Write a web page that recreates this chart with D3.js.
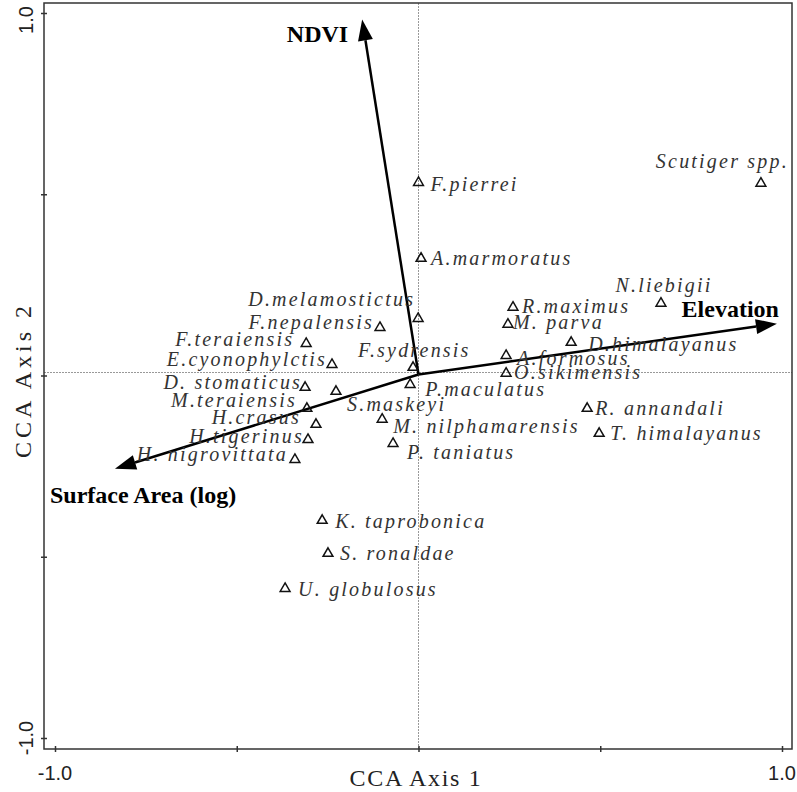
<!DOCTYPE html>
<html>
<head>
<meta charset="utf-8">
<script src="https://cdn.jsdelivr.net/npm/d3@7"></script>
<style>
	body { margin: 0; background: #fff; }
	svg { display: block; }
</style>
</head>
<body>
<div id="chart"></div>
<script>
	// species scores on the first two CCA axes
	var species = ["F.pierrei", "Scutiger spp.", "A.marmoratus", "N.liebigii", "R.maximus", "M. parva",
		"D.himalayanus", "A.formosus", "O.sikimensis", "P.maculatus", "F.sydrensis", "D.melamostictus",
		"F.nepalensis", "F.teraiensis", "E.cyonophylctis", "D. stomaticus", "S.maskeyi", "M.teraiensis",
		"H.crasus", "H.tigerinus", "H. nigrovittata", "M. nilphamarensis", "P. taniatus", "R. annandali",
		"T. himalayanus", "K. taprobonica", "S. ronaldae", "U. globulosus"];
	var axis1 = [0.00, 0.942, 0.007, 0.667, 0.260, 0.246,
		0.420, 0.241, 0.241, -0.023, -0.015, -0.001,
		-0.106, -0.309, -0.238, -0.312, -0.227, -0.307,
		-0.282, -0.304, -0.340, -0.100, -0.070, 0.464,
		0.497, -0.265, -0.249, -0.367];
	var axis2 = [0.532, 0.530, 0.323, 0.199, 0.188, 0.141,
		0.091, 0.055, 0.006, -0.025, 0.022, 0.157,
		0.132, 0.088, 0.030, -0.033, -0.044, -0.091,
		-0.135, -0.177, -0.232, -0.121, -0.188, -0.091,
		-0.160, -0.400, -0.491, -0.588];

	// environmental variable biplot arrows
	var envVars = ["NDVI", "Elevation", "Surface Area (log)"];
	var envAxis1 = [-0.155, 0.986, -0.835];
	var envAxis2 = [0.982, 0.143, -0.257];

	var tickValues = [-1, -0.5, 0, 0.5, 1];
	var tickLabels = ["-1.0", "", "", "", "1.0"];

	// label placement (anchor, dx, dy from the symbol)
	var labelPlace = {
		"F.pierrei": ["start", 12, 8], "Scutiger spp.": ["end", 28, -15], "A.marmoratus": ["start", 10, 7],
		"N.liebigii": ["middle", 3, -11], "R.maximus": ["start", 9, 6], "M. parva": ["start", 5, 5],
		"D.himalayanus": ["start", 17, 8], "A.formosus": ["start", 11, 9], "O.sikimensis": ["start", 8, 6],
		"P.maculatus": ["start", 15, 11], "F.sydrensis": ["start", -55, -11], "D.melamostictus": ["end", -3, -13],
		"F.nepalensis": ["end", -6, 1], "F.teraiensis": ["end", -12, 2], "E.cyonophylctis": ["end", -5, 1],
		"D. stomaticus": ["end", -3, 2], "S.maskeyi": ["start", 11, 20], "M.teraiensis": ["end", -10, -1],
		"H.crasus": ["end", -15, 0], "H.tigerinus": ["end", -4, 3], "H. nigrovittata": ["end", -7, 1],
		"M. nilphamarensis": ["start", 11, 14], "P. taniatus": ["start", 14, 15], "R. annandali": ["start", 8, 7],
		"T. himalayanus": ["start", 11, 6], "K. taprobonica": ["start", 13, 7], "S. ronaldae": ["start", 12, 7],
		"U. globulosus": ["start", 13, 7]
	};
	var envLabelPlace = {
		"NDVI": ["end", -14, 22], "Elevation": ["end", 2, -7], "Surface Area (log)": ["start", -65, 34]
	};

	var svgwidth = 797;
	var svgheight = 792;

	var svg = d3.select("#chart")
		.append("svg")
		.attr("width", svgwidth)
		.attr("height", svgheight);

	var frame = { left: 44, right: 792, top: 3, bottom: 749 };

	var xScale = d3.scaleLinear().domain([-1, 1]).range([55, 782]);
	var yScale = d3.scaleLinear().domain([-1, 1]).range([738, 13]);

	// zero lines
	svg.append("line")
		.attr("x1", xScale(0)).attr("x2", xScale(0))
		.attr("y1", frame.top).attr("y2", frame.bottom)
		.attr("stroke", "#999").attr("stroke-width", 1).attr("stroke-dasharray", "2,1");
	svg.append("line")
		.attr("x1", frame.left).attr("x2", frame.right)
		.attr("y1", yScale(0) - 3).attr("y2", yScale(0) - 3)
		.attr("stroke", "#999").attr("stroke-width", 1).attr("stroke-dasharray", "2,1");

	// frame
	svg.append("rect")
		.attr("x", frame.left).attr("y", frame.top)
		.attr("width", frame.right - frame.left)
		.attr("height", frame.bottom - frame.top)
		.attr("fill", "none")
		.attr("stroke", "#333")
		.attr("stroke-width", 1.5);

	// ticks crossing the frame
	var xAxis = svg.append("g")
		.attr("transform", "translate(0," + (frame.bottom - 3) + ")")
		.call(d3.axisBottom(xScale).tickValues(tickValues).tickSize(6).tickFormat(""));
	var yAxis = svg.append("g")
		.attr("transform", "translate(" + (frame.left + 3) + ",0)")
		.call(d3.axisLeft(yScale).tickValues(tickValues).tickSize(6).tickFormat(""));
	svg.selectAll(".domain").remove();
	svg.selectAll(".tick line").attr("stroke", "#333").attr("stroke-width", 1.5);

	// tick labels
	svg.selectAll(".xlab")
		.data(tickValues.filter(function (d, i) { return tickLabels[i]; }))
		.enter()
		.append("text")
		.attr("x", function (d) { return xScale(d); })
		.attr("y", 780)
		.attr("text-anchor", "middle")
		.style("font-family", "'Liberation Sans', Arial, sans-serif")
		.style("font-size", "20px")
		.attr("fill", "#222")
		.text(function (d) { return tickLabels[tickValues.indexOf(d)]; });

	svg.selectAll(".ylab")
		.data(tickValues.filter(function (d, i) { return tickLabels[i]; }))
		.enter()
		.append("text")
		.attr("transform", function (d) {
			return "translate(33," + Math.max(yScale(d), 20) + ") rotate(-90)";
		})
		.attr("text-anchor", "middle")
		.style("font-family", "'Liberation Sans', Arial, sans-serif")
		.style("font-size", "20px")
		.attr("fill", "#222")
		.text(function (d) { return tickLabels[tickValues.indexOf(d)]; });

	// axis titles
	svg.append("text")
		.attr("x", 416)
		.attr("y", 786)
		.attr("text-anchor", "middle")
		.style("font-family", "'Liberation Serif', 'Times New Roman', serif")
		.style("font-size", "24px")
		.style("letter-spacing", "1.7px")
		.attr("fill", "#222")
		.text("CCA Axis 1");

	svg.append("text")
		.attr("transform", "translate(31,380) rotate(-90)")
		.attr("text-anchor", "middle")
		.style("font-family", "'Liberation Serif', 'Times New Roman', serif")
		.style("font-size", "24px")
		.style("letter-spacing", "4px")
		.attr("fill", "#222")
		.text("CCA Axis 2");

	// environmental arrows
	var ox = xScale(0), oy = yScale(0) - 1;
	var headLen = 21, headHalf = 7.5;
	var arrows = svg.append("g");
	envVars.forEach(function (name, i) {
		var tx = xScale(envAxis1[i]);
		var ty = yScale(envAxis2[i]);
		var ang = Math.atan2(ty - oy, tx - ox);
		var bx = tx - headLen * Math.cos(ang);
		var by = ty - headLen * Math.sin(ang);
		var px = -Math.sin(ang), py = Math.cos(ang);
		arrows.append("line")
			.attr("x1", ox).attr("y1", oy)
			.attr("x2", bx).attr("y2", by)
			.attr("stroke", "#000")
			.attr("stroke-width", 2.5);
		arrows.append("path")
			.attr("d", "M" + tx + "," + ty +
				"L" + (bx + headHalf * px) + "," + (by + headHalf * py) +
				"L" + (bx - headHalf * px) + "," + (by - headHalf * py) + "Z")
			.attr("fill", "#000");
		var lp = envLabelPlace[name];
		arrows.append("text")
			.attr("x", tx + lp[1])
			.attr("y", ty + lp[2])
			.attr("text-anchor", lp[0])
			.style("font-family", "'Liberation Serif', 'Times New Roman', serif")
			.style("font-weight", "bold")
			.style("font-size", "24px")
			.attr("fill", "#000")
			.text(name);
	});

	// species points
	var pts = species.map(function (name, i) {
		return { name: name, a1: axis1[i], a2: axis2[i] };
	});

	var tri = d3.symbol().type(d3.symbolTriangle).size(42);

	svg.append("g")
		.selectAll("path")
		.data(pts)
		.enter()
		.append("path")
		.attr("transform", function (d) {
			return "translate(" + xScale(d.a1) + "," + yScale(d.a2) + ")";
		})
		.attr("d", tri)
		.attr("fill", "none")
		.attr("stroke", "#111")
		.attr("stroke-width", 1.5);

	svg.append("g")
		.selectAll("text")
		.data(pts)
		.enter()
		.append("text")
		.attr("x", function (d) { return xScale(d.a1) + labelPlace[d.name][1]; })
		.attr("y", function (d) { return yScale(d.a2) + labelPlace[d.name][2]; })
		.attr("text-anchor", function (d) { return labelPlace[d.name][0]; })
		.style("font-family", "'Liberation Serif', 'Times New Roman', serif")
		.style("font-style", "italic")
		.style("font-size", "20px")
		.style("letter-spacing", "2.2px")
		.attr("fill", "#333")
		.text(function (d) { return d.name; });
</script>
</body>
</html>
